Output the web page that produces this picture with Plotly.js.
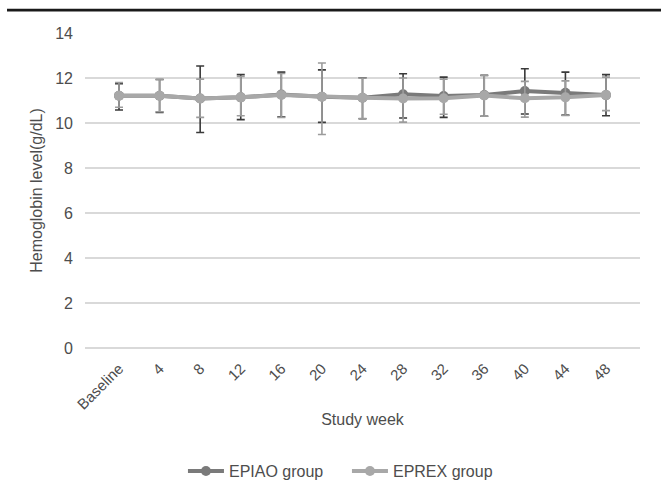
<!DOCTYPE html>
<html>
<head>
<meta charset="utf-8">
<script src="https://cdn.plot.ly/plotly-3.0.1.min.js"></script>
<style>html,body{margin:0;padding:0;background:#fff;}#chart{width:661px;height:500px;}</style>
</head>
<body>
<div id="chart"></div>
<script>
var weeks = ["Baseline","4","8","12","16","20","24","28","32","36","40","44","48"];
var epiaoMean  = [11.21, 11.21, 11.09, 11.14, 11.27, 11.17, 11.12, 11.28, 11.20, 11.24, 11.42, 11.34, 11.24];
var epiaoUpper = [11.75, 11.93, 12.53, 12.15, 12.26, 12.36, 12.01, 12.19, 12.04, 12.12, 12.41, 12.26, 12.15];
var epiaoLower = [10.58, 10.47, 9.58, 10.15, 10.28, 10.03, 10.19, 10.22, 10.25, 10.30, 10.40, 10.35, 10.32];
var eprexMean  = [11.21, 11.21, 11.09, 11.14, 11.25, 11.17, 11.12, 11.09, 11.10, 11.22, 11.10, 11.14, 11.24];
var eprexUpper = [11.80, 11.93, 11.95, 12.07, 12.20, 12.67, 12.00, 12.00, 11.95, 12.10, 11.85, 11.87, 12.04];
var eprexLower = [10.70, 10.50, 10.25, 10.32, 10.25, 9.49, 10.20, 10.04, 10.39, 10.30, 10.26, 10.34, 10.55];

function diff(a, b) { return a.map(function (v, i) { return +(v - b[i]).toFixed(3); }); }

var font = "Liberation Sans, Arial, sans-serif";
var txt = "#4d4d4d";

var traces = [
  {
    x: weeks, y: epiaoMean, name: "EPIAO group", type: "scatter", mode: "lines+markers",
    line: {color: "#7a7a7a", width: 4},
    marker: {color: "#7a7a7a", size: 10},
    error_y: {type: "data", symmetric: false, array: diff(epiaoUpper, epiaoMean), arrayminus: diff(epiaoMean, epiaoLower),
              color: "#3a3a3a", thickness: 1.6, width: 4}
  },
  {
    x: weeks, y: eprexMean, name: "EPREX group", type: "scatter", mode: "lines+markers",
    line: {color: "#a8a8a8", width: 4},
    marker: {color: "#a8a8a8", size: 10},
    error_y: {type: "data", symmetric: false, array: diff(eprexUpper, eprexMean), arrayminus: diff(eprexMean, eprexLower),
              color: "#9c9c9c", thickness: 1.6, width: 4}
  }
];

var layout = {
  width: 661, height: 500,
  margin: {l: 85, r: 21, t: 33, b: 137},
  paper_bgcolor: "#ffffff", plot_bgcolor: "#ffffff",
  font: {family: font, size: 16, color: txt},
  showlegend: true,
  legend: {orientation: "h", x: 0.472, xanchor: "center", y: -0.391, yanchor: "middle",
           itemwidth: 36, entrywidth: 113, entrywidthmode: "pixels",
           font: {family: font, size: 16, color: txt}, traceorder: "normal"},
  xaxis: {
    type: "category", tickangle: -45, showgrid: false, zeroline: false, showline: false,
    ticks: "", ticklabelstandoff: 8, tickfont: {family: font, size: 15, color: txt},
    title: {text: "Study week", font: {family: font, size: 16, color: txt}, standoff: 2}
  },
  yaxis: {
    range: [0, 14], dtick: 2, tick0: 0, showgrid: true, gridcolor: "#d9d9d9", gridwidth: 1.2,
    zeroline: true, zerolinecolor: "#d9d9d9", zerolinewidth: 1.2, showline: false, ticks: "",
    ticklabelstandoff: 11,
    tickfont: {family: font, size: 16, color: txt},
    title: {text: "Hemoglobin level(g/dL)", font: {family: font, size: 16, color: txt}, standoff: 8}
  },
  shapes: [
    {type: "line", xref: "paper", yref: "paper", x0: -0.1405, x1: 1.05, y0: 1.0727, y1: 1.0727,
     line: {color: "#1a1a1a", width: 2.7}}
  ]
};

Plotly.newPlot("chart", traces, layout, {displayModeBar: false, staticPlot: true});
</script>
</body>
</html>
